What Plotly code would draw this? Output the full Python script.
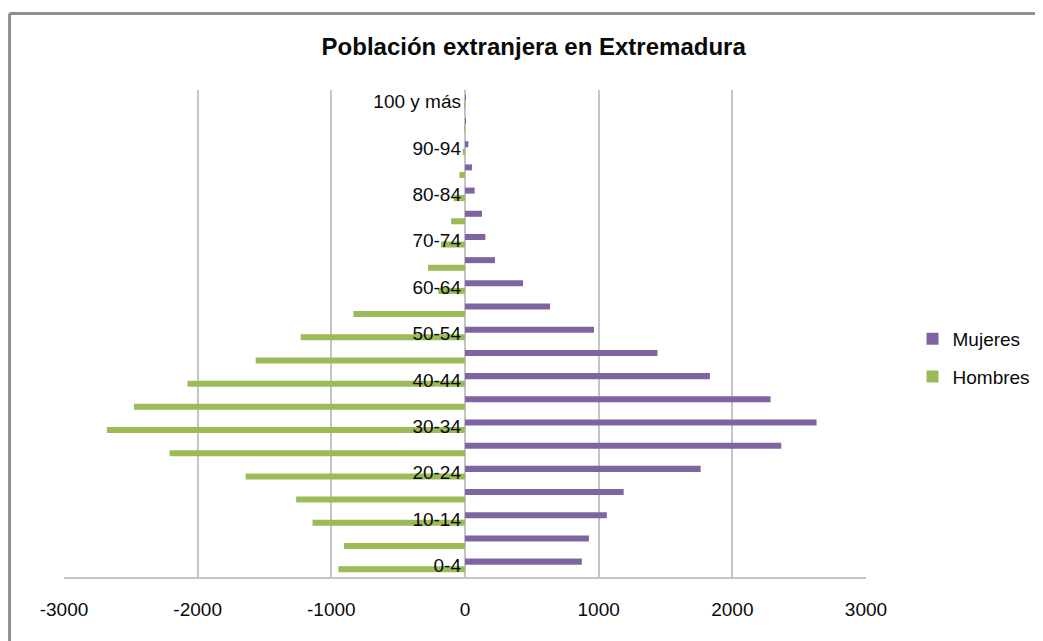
import plotly.graph_objects as go

# grupos de edad (de abajo arriba)
categorias = ["0-4", "5-9", "10-14", "15-19", "20-24", "25-29", "30-34", "35-39",
              "40-44", "45-49", "50-54", "55-59", "60-64", "65-69", "70-74",
              "75-79", "80-84", "85-89", "90-94", "95-99", "100 y más"]
mujeres = [874, 927, 1061, 1187, 1763, 2366, 2630, 2286, 1832, 1440, 965, 636,
           434, 224, 152, 127, 72, 52, 25, 4, 1]
hombres = [-947, -905, -1141, -1263, -1641, -2210, -2679, -2477, -2076, -1566,
           -1229, -835, -200, -277, -180, -104, -85, -42, -17, -3, -1]
ticks_x = [-3000, -2000, -1000, 0, 1000, 2000, 3000]

fuente = "Liberation Sans, Arial, sans-serif"

fig = go.Figure()
# primero hombres -> queda abajo dentro de cada grupo
fig.add_trace(go.Bar(y=categorias, x=hombres, name="Hombres", orientation="h",
                     marker=dict(color="#9bbb59", line=dict(width=0)),
                     legendgroup="h", legendrank=2))
fig.add_trace(go.Bar(y=categorias, x=mujeres, name="Mujeres", orientation="h",
                     marker=dict(color="#8064a2", line=dict(width=0)),
                     legendgroup="m", legendrank=1))

# la página tiene 8px de margen en el body -> se compensa en los márgenes
fig.update_layout(
    width=1043, height=641,
    margin=dict(l=55.5, r=184.5, t=81.5, b=72),
    paper_bgcolor="white", plot_bgcolor="white",
    barmode="group", bargap=0.35, bargroupgap=0.2,
    font=dict(family=fuente, size=19, color="#0a0a0a"),
    title=dict(text="<b>Población extranjera en Extremadura</b>",
               x=0.504, y=0.94, xanchor="center", yanchor="middle",
               font=dict(family=fuente, size=24, color="#0a0a0a")),
    legend=dict(x=1.058, y=0.528, xanchor="left", yanchor="top",
                tracegroupgap=10, font=dict(size=19),
                bgcolor="rgba(0,0,0,0)"),
    showlegend=True,
)

fig.update_xaxes(range=[-3000, 3000], tickvals=ticks_x,
                 ticktext=[str(v) for v in ticks_x],
                 showgrid=True, gridcolor="#c4c4c4", gridwidth=2,
                 zeroline=False, showline=True, linecolor="#c4c4c4",
                 linewidth=2, ticks="", ticklabelstandoff=14,
                 tickfont=dict(size=19), fixedrange=True)

fig.update_yaxes(type="category", categoryorder="array",
                 categoryarray=categorias, range=[-0.5, 20.5],
                 tickmode="array", tickvals=categorias[::2],
                 showgrid=False, zeroline=False, showline=False, ticks="",
                 anchor="free", position=0.5, ticklabelstandoff=4,
                 tickfont=dict(size=19), fixedrange=True)

# marco del gráfico (borde izquierdo y superior)
x_marco = (9 - 63.5) / 803
y_marco = (577 - 13) / 487.5
fig.add_shape(type="line", xref="paper", yref="paper",
              x0=x_marco, x1=x_marco, y0=-0.2, y1=y_marco,
              line=dict(color="#8f8f8f", width=3))
fig.add_shape(type="line", xref="paper", yref="paper",
              x0=x_marco, x1=1.3, y0=y_marco, y1=y_marco,
              line=dict(color="#8f8f8f", width=3))

fig.write_html("out.html")
